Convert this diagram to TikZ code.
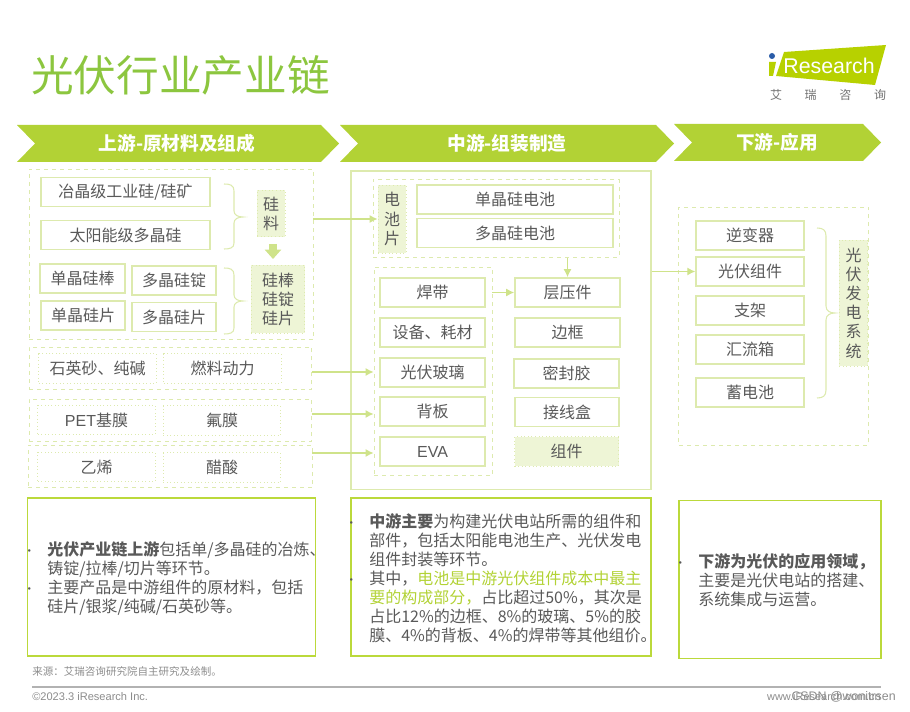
\documentclass[tikz,border=0pt]{standalone}
\usepackage{fontspec}
\setmainfont{Noto Sans CJK SC}
\newfontfamily\latinfont{Liberation Sans}
\usepackage{xcolor}
\usepackage{tikz}
\usetikzlibrary{positioning,arrows.meta}

\definecolor{titlegreen}{HTML}{8CC63F}
\definecolor{bandgreen}{HTML}{B2D235}
\definecolor{logogreen}{HTML}{B7D100}
\definecolor{logoblue}{HTML}{2A5CA8}
\definecolor{palegreen}{HTML}{DDEAAE}
\definecolor{panelgreen}{HTML}{BBD93B}
\definecolor{tintgreen}{HTML}{EEF5D6}
\definecolor{linkgreen}{HTML}{CFE38A}
\definecolor{inkgray}{HTML}{595959}
\definecolor{notegray}{HTML}{8C8C8C}

\newcommand{\bulletmark}{\llap{\smash{\small •}\hspace{9pt}}}

\begin{document}
\begin{tikzpicture}[
    x=0.75pt, y=-0.75pt,
    every node/.style={text=inkgray, font=\fontsize{12pt}{14.25pt}\selectfont},
    band/.style={
        fill=bandgreen,
        line width=0pt
    },
    bandtext/.style={
        text=white,
        font=\fontsize{14pt}{16pt}\selectfont\bfseries
    },
    itembox/.style={
        draw=palegreen,
        line width=1.1pt,
        inner sep=0pt,
        minimum height=22pt,
        align=center
    },
    dottedbox/.style={
        itembox,
        line width=0.6pt,
        dotted,
        minimum width=88pt
    },
    tintbox/.style={
        draw=palegreen,
        dotted,
        fill=tintgreen,
        line width=0.7pt,
        inner sep=0pt,
        align=center
    },
    groupbox/.style={
        draw=palegreen,
        dashed,
        line width=0.7pt,
        inner sep=0pt
    },
    panel/.style={
        draw=panelgreen,
        line width=0.9pt,
        inner sep=0pt
    },
    para/.style={
        anchor=north west,
        inner sep=0pt,
        align=left
    },
    arrow/.style={-{Latex[length=6pt,width=6pt]}, draw=linkgreen, line width=0.8pt},
    bracket/.style={
        draw=palegreen,
        line width=0.8pt
    }
]
\useasboundingbox (0,0) rectangle (910,712);

% title and logo
\node[anchor=west, inner sep=0pt, text=titlegreen, font=\fontsize{32pt}{36pt}\selectfont] (title) at (31,75) {光伏行业产业链};

\fill[logogreen] (784,52) -- (886,45) -- (875,85) -- (776,76) -- cycle;
\fill[logogreen] (769,62) -- (776,62) -- (773,76) -- (769,76) -- cycle;
\fill[logoblue] (772,56) circle (3);
\node[text=white, inner sep=0pt, font=\latinfont\fontsize{16pt}{18pt}\selectfont] (logotext) at (829,66) {Research};
\node[inner sep=0pt, text=inkgray!85, font=\fontsize{9pt}{10pt}\selectfont] (logocn) at (828,95) {艾\hspace{17pt}瑞\hspace{17pt}咨\hspace{17pt}询};

% stage bands
\fill[band] (17,125) -- (321,125) -- (339,143.5) -- (321,162) -- (17,162) -- (35,143.5) -- cycle;
\fill[band] (340,125) -- (656,125) -- (674,143.5) -- (656,162) -- (340,162) -- (358,143.5) -- cycle;
\fill[band] (674,124) -- (863,124) -- (881,142.5) -- (863,161) -- (674,161) -- (692,142.5) -- cycle;
\node[bandtext] (upstream) at (177,143.5) {上游-原材料及组成};
\node[bandtext] (midstream) at (507,143.5) {中游-组装制造};
\node[bandtext] (downstream) at (777,142.5) {下游-应用};

% upstream
\node[groupbox, minimum width=213pt, minimum height=128pt] (sigroup) at (171,254.5) {};
\node[itembox, minimum width=127pt] (metalsi) at (125.5,192) {冶晶级工业硅/硅矿};
\node[itembox, minimum width=127pt] (polysi) at (125.5,235) {太阳能级多晶硅};
\node[itembox, minimum width=64pt] (monorod) at (82.5,278.5) {单晶硅棒};
\node[itembox, minimum width=63pt] (polyingot) at (174,280.5) {多晶硅锭};
\node[itembox, minimum width=63pt] (monowafer) at (83,315.5) {单晶硅片};
\node[itembox, minimum width=63pt] (polywafer) at (174,317) {多晶硅片};
\node[tintbox, minimum width=21pt, minimum height=35pt] (feedstock) at (271,213.5) {硅\\料};
\node[tintbox, minimum width=40pt, minimum height=51pt] (ingots) at (278,299) {硅棒\\硅锭\\硅片};
\draw[bracket] (224,184) .. controls (230,184) and (234,185) .. (234,191) -- (234,211)
    .. controls (234,215) and (238,217) .. (243,217) .. controls (238,217) and (234,219) .. (234,223)
    -- (234,243) .. controls (234,248) and (230,249) .. (224,249);
\draw[bracket] (224,268) .. controls (230,268) and (234,269) .. (234,275) -- (234,295)
    .. controls (234,299) and (238,301) .. (243,301) .. controls (238,301) and (234,303) .. (234,307)
    -- (234,328) .. controls (234,333) and (230,334) .. (224,334);
\coordinate (flowtop) at (273,244);
\coordinate (flowend) at (273,259);
\draw[-{Triangle[length=7pt,width=12pt]}, draw=linkgreen, line width=6pt] (flowtop) -- (flowend);

\node[groupbox, minimum width=212pt, minimum height=32pt] (sandrow) at (170.5,368.5) {};
\node[dottedbox] (sand) at (97.5,368.5) {石英砂、纯碱};
\node[dottedbox] (fuel) at (222.5,368.5) {燃料动力};
\node[groupbox, minimum width=212pt, minimum height=32pt] (filmrow) at (170.5,420.5) {};
\node[dottedbox] (pet) at (96.5,420) {\latinfont PET\rmfamily 基膜};
\node[dottedbox] (fluoro) at (222,420.5) {氟膜};
\node[groupbox, minimum width=213pt, minimum height=32pt] (gluerow) at (170,466.5) {};
\node[dottedbox] (ethylene) at (96.5,467) {乙烯};
\node[dottedbox] (acetic) at (222,467.5) {醋酸};

% midstream
\node[draw=palegreen, line width=1pt, inner sep=0pt, minimum width=225pt, minimum height=239pt] (midframe) at (501,330.5) {};
\node[groupbox, minimum width=184.5pt, minimum height=58pt] (cellgroup) at (496,218.5) {};
\node[tintbox, minimum width=21pt, minimum height=51pt, font=\fontsize{12pt}{14.4pt}\selectfont] (cell) at (392,219) {电\\池\\片};
\node[itembox, minimum width=147pt] (monocell) at (515,199.5) {单晶硅电池};
\node[itembox, minimum width=147pt] (polycell) at (515,233) {多晶硅电池};
\node[groupbox, minimum width=88.5pt, minimum height=156.5pt] (partgroup) at (433,371.5) {};

\node[itembox, minimum width=79pt] (ribbon) at (432.5,292.5) {焊带};
\node[itembox, minimum width=79pt, below=6.9pt of ribbon] (consumable) {设备、耗材};
\node[itembox, minimum width=79pt, below=6.9pt of consumable] (glass) {光伏玻璃};
\node[itembox, minimum width=79pt, below=6.15pt of glass] (backsheet) {背板};
\node[itembox, minimum width=79pt, below=6.9pt of backsheet] (eva) {\latinfont EVA};

\node[itembox, minimum width=79pt] (laminate) at (567.5,292.5) {层压件};
\node[itembox, minimum width=79pt, below=6.9pt of laminate] (frame) {边框};
\node[itembox, minimum width=79pt] (sealant) at (566.5,373.5) {密封胶};
\node[itembox, minimum width=78pt] (junction) at (567,412) {接线盒};
\node[tintbox, minimum width=78pt, minimum height=22pt] (module) at (566.5,451.5) {组件};

% downstream
\node[groupbox, minimum width=142pt, minimum height=178.5pt] (usegroup) at (773.5,326) {};
\node[itembox, minimum width=81pt] (inverter) at (750,235.5) {逆变器};
\node[itembox, minimum width=81pt] (pvmodule) at (750,271.5) {光伏组件};
\node[itembox, minimum width=81pt] (bracketbox) at (750,310.5) {支架};
\node[itembox, minimum width=81pt] (combiner) at (750,349.5) {汇流箱};
\node[itembox, minimum width=81pt] (battery) at (750,392.5) {蓄电池};
\node[tintbox, minimum width=21.5pt, minimum height=94.5pt, font=\fontsize{12pt}{14.4pt}\selectfont] (pvsystem) at (853.5,303) {光\\伏\\发\\电\\系\\统};
\draw[bracket] (817,228) .. controls (823,228) and (826,230) .. (826,236) -- (826,306)
    .. controls (826,311) and (830,313) .. (835,313) .. controls (830,313) and (826,315) .. (826,320)
    -- (826,390) .. controls (826,396) and (823,398) .. (817,398);

% flows
\draw[arrow] (sigroup.east |- cell.west) -- (cell.west);
\draw[arrow] (cellgroup.south -| laminate) -- (laminate.north);
\draw[arrow] (partgroup.east |- laminate) -- (laminate.west);
\draw[arrow] (midframe.east |- pvmodule) -- (pvmodule.west);
\coordinate (sandend) at (partgroup.west |- 0,372);
\coordinate (filmend) at (partgroup.west |- 0,414);
\coordinate (glueend) at (partgroup.west |- 0,453);
\draw[arrow] (sandrow.east |- sandend) -- (sandend);
\draw[arrow] (filmrow.east |- filmend) -- (filmend);
\draw[arrow] (gluerow.east |- glueend) -- (glueend);

% notes
\node[panel, minimum width=215.5pt, minimum height=118.5pt] (uppanel) at (171.5,577) {};
\node[panel, minimum width=225pt, minimum height=118.5pt] (midpanel) at (501,577) {};
\node[panel, minimum width=151.5pt, minimum height=119pt] (lowpanel) at (780,579.5) {};

\node[para] (uptext) at (47,541) {\bulletmark\textbf{光伏产业链上游}包括单/多晶硅的冶炼、\\铸锭/拉棒/切片等环节。\\\bulletmark 主要产品是中游组件的原材料，包括\\硅片/银浆/纯碱/石英砂等。};
\node[para] (midtext) at (369,513) {\bulletmark\textbf{中游主要}为构建光伏电站所需的组件和\\部件，包括太阳能电池生产、光伏发电\\组件封装等环节。\\\bulletmark 其中，\textcolor{bandgreen}{电池是中游光伏组件成本中最主}\\\textcolor{bandgreen}{要的构成部分，}占比超过50\%，其次是\\占比12\%的边框、8\%的玻璃、5\%的胶\\膜、4\%的背板、4\%的焊带等其他组价。};
\node[para] (lowtext) at (698,553) {\bulletmark\textbf{下游为光伏的应用领域，}\\主要是光伏电站的搭建、\\系统集成与运营。};

% footer
\node[anchor=west, inner sep=0pt, text=notegray, font=\fontsize{7.9pt}{10pt}\selectfont] (source) at (32,672) {来源：艾瑞咨询研究院自主研究及绘制。};
\coordinate (ruleleft) at (32,687);
\coordinate (ruleright) at (881,687);
\draw[draw=black!30, line width=1.1pt] (ruleleft) -- (ruleright);
\node[anchor=west, inner sep=0pt, text=notegray, font=\latinfont\fontsize{8.3pt}{9pt}\selectfont] (copyright) at (32,697) {©2023.3 iResearch Inc.};
\node[anchor=east, inner sep=0pt, text=notegray, font=\latinfont\fontsize{8.2pt}{9pt}\selectfont] (website) at (881,697) {www.iResearch.com.cn};
\node[anchor=east, inner sep=0pt, text=notegray, font=\latinfont\fontsize{9.3pt}{10pt}\selectfont] (watermark) at (896,697) {CSDN @wonitrsen};

\end{tikzpicture}
\end{document}
